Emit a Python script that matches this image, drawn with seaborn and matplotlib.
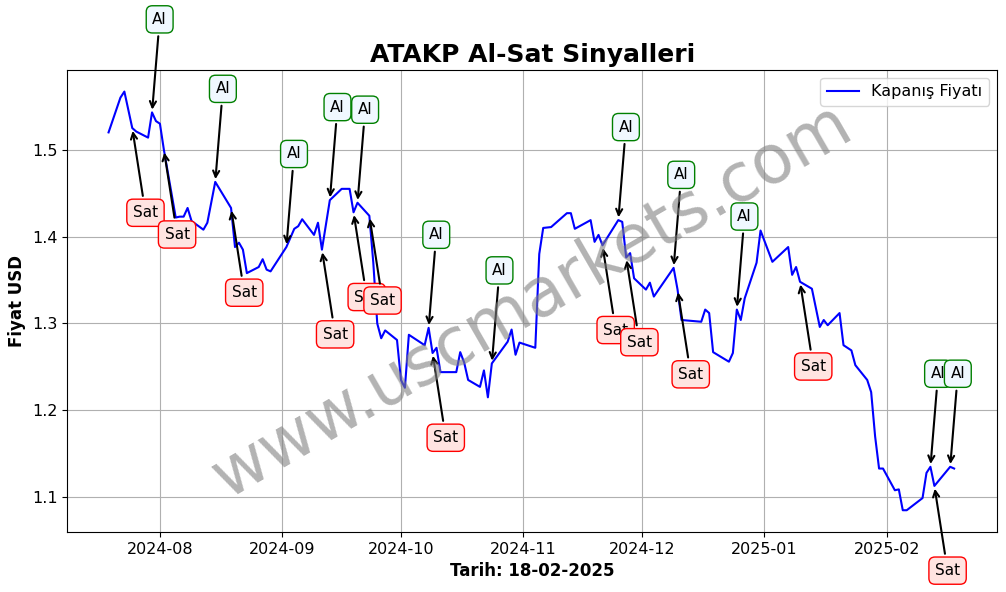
import matplotlib
matplotlib.use("Agg")
import matplotlib.pyplot as plt
import numpy as np
import pandas as pd
import seaborn as sns

dates = [
    "2024-07-19", "2024-07-22", "2024-07-23", "2024-07-25", "2024-07-26", "2024-07-29",
    "2024-07-30", "2024-07-31", "2024-08-01", "2024-08-02", "2024-08-05", "2024-08-06",
    "2024-08-07", "2024-08-08", "2024-08-09", "2024-08-12", "2024-08-13", "2024-08-15",
    "2024-08-19", "2024-08-20", "2024-08-21", "2024-08-22", "2024-08-23", "2024-08-26",
    "2024-08-27", "2024-08-28", "2024-08-29", "2024-09-02", "2024-09-04", "2024-09-05",
    "2024-09-06", "2024-09-09", "2024-09-10", "2024-09-11", "2024-09-13", "2024-09-16",
    "2024-09-18", "2024-09-19", "2024-09-20", "2024-09-23", "2024-09-24", "2024-09-25",
    "2024-09-26", "2024-09-27", "2024-09-30", "2024-10-01", "2024-10-02", "2024-10-03",
    "2024-10-07", "2024-10-08", "2024-10-09", "2024-10-10", "2024-10-11", "2024-10-15",
    "2024-10-16", "2024-10-17", "2024-10-18", "2024-10-21", "2024-10-22", "2024-10-23",
    "2024-10-24", "2024-10-28", "2024-10-29", "2024-10-30", "2024-10-31", "2024-11-04",
    "2024-11-05", "2024-11-06", "2024-11-08", "2024-11-12", "2024-11-13", "2024-11-14",
    "2024-11-18", "2024-11-19", "2024-11-20", "2024-11-21", "2024-11-25", "2024-11-26",
    "2024-11-27", "2024-11-28", "2024-11-29", "2024-12-02", "2024-12-03", "2024-12-04",
    "2024-12-09", "2024-12-10", "2024-12-11", "2024-12-16", "2024-12-17", "2024-12-18",
    "2024-12-19", "2024-12-23", "2024-12-24", "2024-12-25", "2024-12-26", "2024-12-27",
    "2024-12-30", "2024-12-31", "2025-01-03", "2025-01-07", "2025-01-08", "2025-01-09",
    "2025-01-10", "2025-01-13", "2025-01-15", "2025-01-16", "2025-01-17", "2025-01-20",
    "2025-01-21", "2025-01-23", "2025-01-24", "2025-01-27", "2025-01-28", "2025-01-29",
    "2025-01-30", "2025-01-31", "2025-02-03", "2025-02-04", "2025-02-05", "2025-02-06",
    "2025-02-10", "2025-02-11", "2025-02-12", "2025-02-13", "2025-02-17", "2025-02-18",
]
prices = [
    1.520, 1.560, 1.567, 1.525, 1.521, 1.514,
    1.543, 1.533, 1.530, 1.500, 1.422, 1.423,
    1.423, 1.433, 1.418, 1.408, 1.416, 1.463,
    1.433, 1.388, 1.393, 1.385, 1.358, 1.365,
    1.374, 1.362, 1.360, 1.388, 1.409, 1.412,
    1.420, 1.402, 1.416, 1.385, 1.442, 1.455,
    1.455, 1.428, 1.439, 1.424, 1.370, 1.300,
    1.283, 1.292, 1.281, 1.235, 1.226, 1.287,
    1.275, 1.295, 1.266, 1.272, 1.244, 1.244,
    1.267, 1.255, 1.235, 1.227, 1.246, 1.215,
    1.254, 1.279, 1.293, 1.264, 1.278, 1.272,
    1.380, 1.410, 1.411, 1.427, 1.427, 1.409,
    1.419, 1.394, 1.402, 1.390, 1.419, 1.417,
    1.376, 1.381, 1.352, 1.339, 1.347, 1.331,
    1.364, 1.339, 1.304, 1.302, 1.316, 1.312,
    1.267, 1.256, 1.266, 1.316, 1.304, 1.329,
    1.370, 1.407, 1.371, 1.388, 1.356, 1.365,
    1.348, 1.340, 1.296, 1.304, 1.298, 1.312,
    1.275, 1.269, 1.252, 1.235, 1.221, 1.170,
    1.133, 1.133, 1.108, 1.109, 1.085, 1.085,
    1.099, 1.128, 1.135, 1.113, 1.135, 1.133,
]
buy_dates = ["2024-07-30", "2024-08-15", "2024-09-02", "2024-09-13", "2024-09-20",
             "2024-10-08", "2024-10-24", "2024-11-25", "2024-12-09", "2024-12-25",
             "2025-02-12", "2025-02-17"]
sell_dates = ["2024-07-25", "2024-08-02", "2024-08-19", "2024-09-11", "2024-09-19",
              "2024-09-23", "2024-10-09", "2024-11-21", "2024-11-27", "2024-12-10",
              "2025-01-10", "2025-02-13"]

df = pd.DataFrame({"Tarih": pd.to_datetime(dates), "Fiyat": prices})
price_at = dict(zip(df["Tarih"], df["Fiyat"]))

fig, ax = plt.subplots(figsize=(10.06, 5.92), dpi=100)
sns.lineplot(data=df, x="Tarih", y="Fiyat", color="blue", linewidth=1.5,
             label="Kapanış Fiyatı", ax=ax)

for d in buy_dates:
    t = pd.Timestamp(d)
    ax.annotate("Al", xy=(t, price_at[t]), xytext=(5.5, 67), textcoords="offset points",
                ha="center", va="center", fontsize=11,
                bbox=dict(boxstyle="round,pad=0.4", fc="aliceblue", ec="green"),
                arrowprops=dict(arrowstyle="->", color="black", lw=1.5))
for d in sell_dates:
    t = pd.Timestamp(d)
    ax.annotate("Sat", xy=(t, price_at[t]), xytext=(9.5, -61), textcoords="offset points",
                ha="center", va="center", fontsize=11,
                bbox=dict(boxstyle="round,pad=0.4", fc="mistyrose", ec="red"),
                arrowprops=dict(arrowstyle="->", color="black", lw=1.5))

ax.text(0.5, 0.5, "www.uscmarkets.com", transform=ax.transAxes, fontsize=48,
        color="gray", alpha=0.6, rotation=30, ha="center", va="center")

ax.set_xlim(pd.Timestamp("2024-07-08 14:00"), pd.Timestamp("2025-02-28 20:00"))
ax.set_ylim(1.0597, 1.592)
ax.set_title("ATAKP Al-Sat Sinyalleri", fontsize=18, fontweight="bold")
ax.set_xlabel("Tarih: 18-02-2025", fontsize=12, fontweight="bold")
ax.set_ylabel("Fiyat USD", fontsize=12, fontweight="bold")
ax.tick_params(labelsize=11.5)
ax.xaxis.set_major_formatter(matplotlib.dates.DateFormatter("%Y-%m"))
ax.grid(True)
ax.legend(loc="upper right", fontsize=11.5)
fig.subplots_adjust(left=0.067, right=0.991, top=0.882, bottom=0.101)
fig.savefig("out.png", dpi=100)
